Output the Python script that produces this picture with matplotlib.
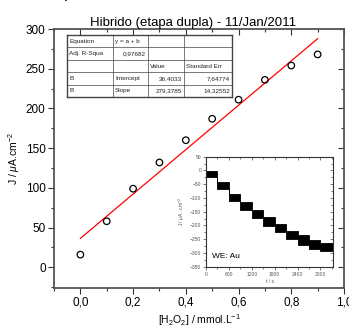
import matplotlib
matplotlib.use("Agg")
import matplotlib.pyplot as plt
import numpy as np
from matplotlib.ticker import FixedLocator, MultipleLocator

plt.rcParams['font.family'] = ['Liberation Sans', 'DejaVu Sans']
plt.rcParams['mathtext.fontset'] = 'custom'
plt.rcParams['mathtext.rm'] = 'Liberation Sans'
plt.rcParams['mathtext.it'] = 'Liberation Sans:italic'

# ---- main data ----
conc = [0.0, 0.1, 0.2, 0.3, 0.4, 0.5, 0.6, 0.7, 0.8, 0.9]
current = [16, 58, 99, 132, 160, 187, 211, 236, 254, 268]
fit_intercept = 36.4033
fit_slope = 279.3785
xticks = [0.0, 0.2, 0.4, 0.6, 0.8, 1.0]
xticklabels = ['0,0', '0,2', '0,4', '0,6', '0,8', '1,0']
yticks = [0, 50, 100, 150, 200, 250, 300]

# ---- table ----
table_rows = [
    ["Equation", "y = a + b", "", ""],
    ["Adj. R-Squa", "0,97682", "", ""],
    ["", "", "Value", "Standard Err"],
    ["B", "Intercept", "36,4033", "7,64774"],
    ["B", "Slope", "279,3785", "14,32552"],
]

# ---- inset data (chronoamperometric steps) ----
step_start = [0, 300, 600, 900, 1200, 1500, 1800, 2100, 2400, 2700, 3000]
step_level = [-14, -54, -98, -129, -158, -185, -209, -236, -253, -269, -278]
step_halfwidth = [11, 13, 12, 14, 14, 16, 16, 15, 17, 15, 15]
t_end = 3330
inset_xticks = [0, 600, 1200, 1800, 2400, 3000]
inset_yticks = [-350, -300, -250, -200, -150, -100, -50, 0, 50]

W, H = 349, 331
fig = plt.figure(figsize=(W / 100, H / 100), dpi=100)

def fx(px):
    return px / W

def fy(py):
    return 1 - py / H

frame_col = '#555555'
ax = fig.add_axes([fx(54), fy(288), fx(344) - fx(54), fy(29) - fy(288)])
ax.set_xlim(-0.1, 1.0)
ax.set_ylim(-26, 300)

ax.scatter(conc, current, s=22, facecolors='none', edgecolors='black', linewidths=0.9, zorder=3)
xf = np.array([conc[0], conc[-1]])
ax.plot(xf, fit_intercept + fit_slope * xf, color='red', lw=0.9, zorder=2)

ax.xaxis.set_major_locator(FixedLocator(xticks))
ax.set_xticklabels(xticklabels)
ax.xaxis.set_minor_locator(MultipleLocator(0.1))
ax.yaxis.set_major_locator(FixedLocator(yticks))
ax.yaxis.set_minor_locator(MultipleLocator(25))
ax.tick_params(which='both', direction='out', labelsize=8.5, color='#333333', width=0.8, pad=2)
ax.tick_params(which='major', length=4)
ax.tick_params(which='minor', length=2.5)

for s in ax.spines.values():
    s.set_color(frame_col)
    s.set_linewidth(1.3)

# mirrored ticks on top/right (inward)
axt = ax.secondary_xaxis('top')
axt.xaxis.set_major_locator(FixedLocator(xticks))
axt.xaxis.set_minor_locator(MultipleLocator(0.1))
axt.tick_params(which='both', direction='in', labeltop=False, color='#333333', width=0.8)
axt.tick_params(which='major', length=4)
axt.tick_params(which='minor', length=2.5)
axt.spines['top'].set_visible(False)
axr = ax.secondary_yaxis('right')
axr.yaxis.set_major_locator(FixedLocator(yticks))
axr.yaxis.set_minor_locator(MultipleLocator(25))
axr.tick_params(which='both', direction='in', labelright=False, color='#333333', width=0.8)
axr.tick_params(which='major', length=4)
axr.tick_params(which='minor', length=2.5)
axr.spines['right'].set_visible(False)

ax.set_title('Hibrido (etapa dupla) - 11/Jan/2011', fontsize=9.5, pad=1.5, x=0.48)
ax.set_ylabel('J / $\\mu$A.cm$^{-2}$', fontsize=7.5, labelpad=3)
ax.set_xlabel('[H$_2$O$_2$] / mmol.L$^{-1}$', fontsize=7.5, labelpad=3)

# cropped glyph at top
fig.text(fx(64), fy(-2), 'p', fontsize=12, va='baseline')

# ---- table drawing ----
col_edges = [67, 113, 148, 184, 232]
row_edges = np.linspace(35, 97, len(table_rows) + 1)
for xe in col_edges:
    lw = 1.0 if xe in (col_edges[0], col_edges[-1]) else 0.5
    fig.add_artist(plt.Line2D([fx(xe), fx(xe)], [fy(row_edges[0]), fy(row_edges[-1])],
                              color='#444444', lw=lw))
for i, ye in enumerate(row_edges):
    lw = 1.0 if i in (0, len(row_edges) - 1) else 0.5
    fig.add_artist(plt.Line2D([fx(col_edges[0]), fx(col_edges[-1])], [fy(ye), fy(ye)],
                              color='#444444', lw=lw))
for r, row in enumerate(table_rows):
    yc = (row_edges[r] + row_edges[r + 1]) / 2
    for c, txt in enumerate(row):
        if not txt:
            continue
        is_num = txt[0].isdigit()
        if is_num:
            xp, ha = col_edges[c + 1] - 2, 'right'
        else:
            xp, ha = col_edges[c] + 2, 'left'
        fig.text(fx(xp), fy(yc), txt, fontsize=4.6, ha=ha, va='center', color='#222222')

# ---- inset ----
axi = fig.add_axes([fx(206), fy(266.7), fx(333) - fx(206), fy(156.7) - fy(266.7)])
edges = list(step_start) + [t_end]
lv = np.array(step_level + [step_level[-1]], dtype=float)
hw = np.array(step_halfwidth + [step_halfwidth[-1]], dtype=float)
axi.fill_between(edges, lv - hw, lv + hw, step='post', color='black', lw=0.6, edgecolor='black')
axi.set_xlim(0, t_end)
axi.set_ylim(-350, 50)
axi.xaxis.set_major_locator(FixedLocator(inset_xticks))
axi.xaxis.set_minor_locator(MultipleLocator(300))
axi.yaxis.set_major_locator(FixedLocator(inset_yticks))
axi.yaxis.set_minor_locator(MultipleLocator(25))
axi.tick_params(which='both', labelsize=3.6, labelcolor='#555555', color='#444444', width=0.5, pad=1.5,
                direction='out')
axi.tick_params(which='major', length=2)
axi.tick_params(which='minor', length=1.2)
for s in axi.spines.values():
    s.set_color('#333333')
    s.set_linewidth(0.8)
ait = axi.secondary_xaxis('top')
ait.xaxis.set_major_locator(FixedLocator(inset_xticks))
ait.xaxis.set_minor_locator(MultipleLocator(300))
ait.tick_params(which='both', direction='in', labeltop=False, color='#444444', width=0.5)
ait.tick_params(which='major', length=2)
ait.tick_params(which='minor', length=1.2)
ait.spines['top'].set_visible(False)
air = axi.secondary_yaxis('right')
air.yaxis.set_major_locator(FixedLocator(inset_yticks))
air.yaxis.set_minor_locator(MultipleLocator(25))
air.tick_params(which='both', direction='in', labelright=False, color='#444444', width=0.5)
air.tick_params(which='major', length=2)
air.tick_params(which='minor', length=1.2)
air.spines['right'].set_visible(False)
axi.set_xlabel('t / s', fontsize=3.6, color='#555555', labelpad=2)
axi.set_ylabel('J / $\\mu$A . cm$^{-2}$', fontsize=3.6, color='#555555', labelpad=2)
axi.text(0.05, 0.09, 'WE: Au', transform=axi.transAxes, fontsize=6, va='center', ha='left')

fig.savefig('out.png', dpi=100)
